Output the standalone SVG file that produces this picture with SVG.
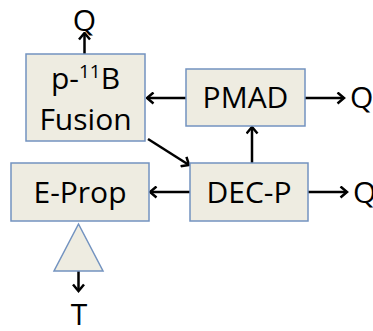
<svg xmlns="http://www.w3.org/2000/svg" width="373" height="331" viewBox="0 0 373 331">
<defs>
<style>
.box{fill:#eeece1;stroke:#7393c0;stroke-width:1.5}
.t{font-family:"Open Sans","Liberation Sans",sans-serif;font-size:30px;fill:#000;text-anchor:middle}
.tl{font-family:"Open Sans","Liberation Sans",sans-serif;font-size:30px;fill:#000}
.c{stroke:#000;stroke-width:2.5;fill:none;marker-end:url(#ah)}
</style>
<marker id="ah" viewBox="0 0 10 13" refX="8.5" refY="6.5" markerWidth="10" markerHeight="13" orient="auto" markerUnits="userSpaceOnUse">
<path d="M2,1 L8.5,6.5 L2,12" fill="none" stroke="#000" stroke-width="2.5" stroke-linejoin="miter"/>
</marker>
</defs>
<rect width="373" height="331" fill="#fff"/>
<g id="connectors">
<line class="c" x1="84.5" y1="54" x2="84.5" y2="33"/>
<line class="c" x1="186" y1="98" x2="147" y2="98"/>
<line class="c" x1="305" y1="98" x2="344" y2="98"/>
<line class="c" x1="148" y1="139" x2="189" y2="165"/>
<line class="c" x1="252" y1="163" x2="252" y2="127"/>
<line class="c" x1="190" y1="192" x2="150" y2="192"/>
<line class="c" x1="308" y1="192" x2="347" y2="192"/>
<line class="c" x1="78.5" y1="271" x2="78.5" y2="291"/>
</g>
<g id="fusion">
<rect class="box" x="26" y="54" width="119" height="87"/>
<text class="t" x="85.5" y="89">p-<tspan font-size="19" dy="-11">11</tspan><tspan dy="11">B</tspan></text>
<text class="t" x="85.5" y="130">Fusion</text>
</g>
<g id="pmad">
<rect class="box" x="186" y="69" width="119" height="57"/>
<text class="t" x="245.5" y="108" font-size="31">PMAD</text>
</g>
<g id="eprop">
<rect class="box" x="11" y="163" width="138" height="58"/>
<text class="t" x="80" y="203">E-Prop</text>
</g>
<g id="decp">
<rect class="box" x="190" y="163" width="118" height="58"/>
<text class="t" x="249" y="203">DEC-P</text>
</g>
<g id="thruster">
<polygon class="box" points="78.5,224 54,271 103,271"/>
</g>
<g id="labels">
<text class="t" x="84.5" y="31">Q</text>
<text class="tl" x="350" y="108">Q</text>
<text class="tl" x="353" y="203">Q</text>
<text class="t" x="79" y="325">T</text>
</g>
</svg>
